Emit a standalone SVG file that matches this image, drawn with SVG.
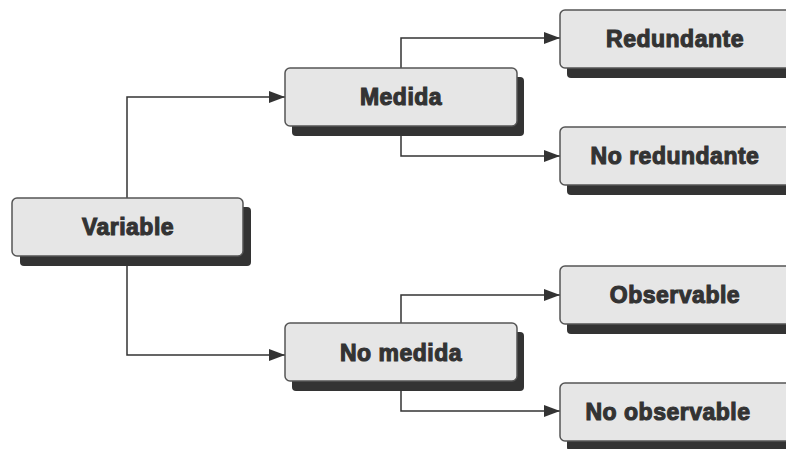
<svg xmlns="http://www.w3.org/2000/svg" width="786" height="449" viewBox="0 0 786 449">
<defs>
<marker id="arr" markerWidth="16" markerHeight="12" refX="16" refY="6" orient="auto" markerUnits="userSpaceOnUse">
<path d="M0,0 L16,6 L0,12 Z" fill="#333"/>
</marker>
</defs>
<style>
.sh{fill:#333}
.bx{fill:#e6e6e6;stroke:#555;stroke-width:1.5}
.t{font-family:"Liberation Sans",Arial,sans-serif;font-weight:bold;font-size:23px;fill:#333;stroke:#333;stroke-width:1.1;text-anchor:middle;letter-spacing:0.5px}
.c{fill:none;stroke:#333;stroke-width:1.5}
</style>
<rect width="786" height="449" fill="#fff"/>
<g id="connectors">
<path class="c" d="M127,198 V97 H285" marker-end="url(#arr)"/>
<path class="c" d="M127,266 V355 H285" marker-end="url(#arr)"/>
<path class="c" d="M401,68 V38 H560" marker-end="url(#arr)"/>
<path class="c" d="M401,136 V156 H560" marker-end="url(#arr)"/>
<path class="c" d="M401,323 V295 H560" marker-end="url(#arr)"/>
<path class="c" d="M401,391 V411 H560" marker-end="url(#arr)"/>
</g>
<g id="variable">
<rect class="sh" x="20" y="207" width="231" height="59" rx="4"/>
<rect class="bx" x="12" y="198" width="231" height="58" rx="5"/>
<text class="t" x="128" y="235">Variable</text>
</g>
<g id="medida">
<rect class="sh" x="292" y="77" width="232" height="59" rx="4"/>
<rect class="bx" x="285" y="68" width="232" height="58" rx="5"/>
<text class="t" x="401" y="105">Medida</text>
</g>
<g id="no-medida">
<rect class="sh" x="292" y="332" width="232" height="59" rx="4"/>
<rect class="bx" x="285" y="323" width="232" height="58" rx="5"/>
<text class="t" x="401" y="361">No medida</text>
</g>
<g id="redundante">
<rect class="sh" x="567" y="19" width="232" height="59" rx="4"/>
<rect class="bx" x="560" y="10" width="232" height="58" rx="5"/>
<text class="t" x="675" y="47">Redundante</text>
</g>
<g id="no-redundante">
<rect class="sh" x="567" y="136" width="232" height="59" rx="4"/>
<rect class="bx" x="560" y="127" width="232" height="58" rx="5"/>
<text class="t" x="675" y="164">No redundante</text>
</g>
<g id="observable">
<rect class="sh" x="567" y="275" width="232" height="59" rx="4"/>
<rect class="bx" x="560" y="266" width="232" height="58" rx="5"/>
<text class="t" x="675" y="303">Observable</text>
</g>
<g id="no-observable">
<rect class="sh" x="567" y="392" width="232" height="59" rx="4"/>
<rect class="bx" x="560" y="383" width="232" height="58" rx="5"/>
<text class="t" x="668" y="420">No observable</text>
</g>
</svg>
